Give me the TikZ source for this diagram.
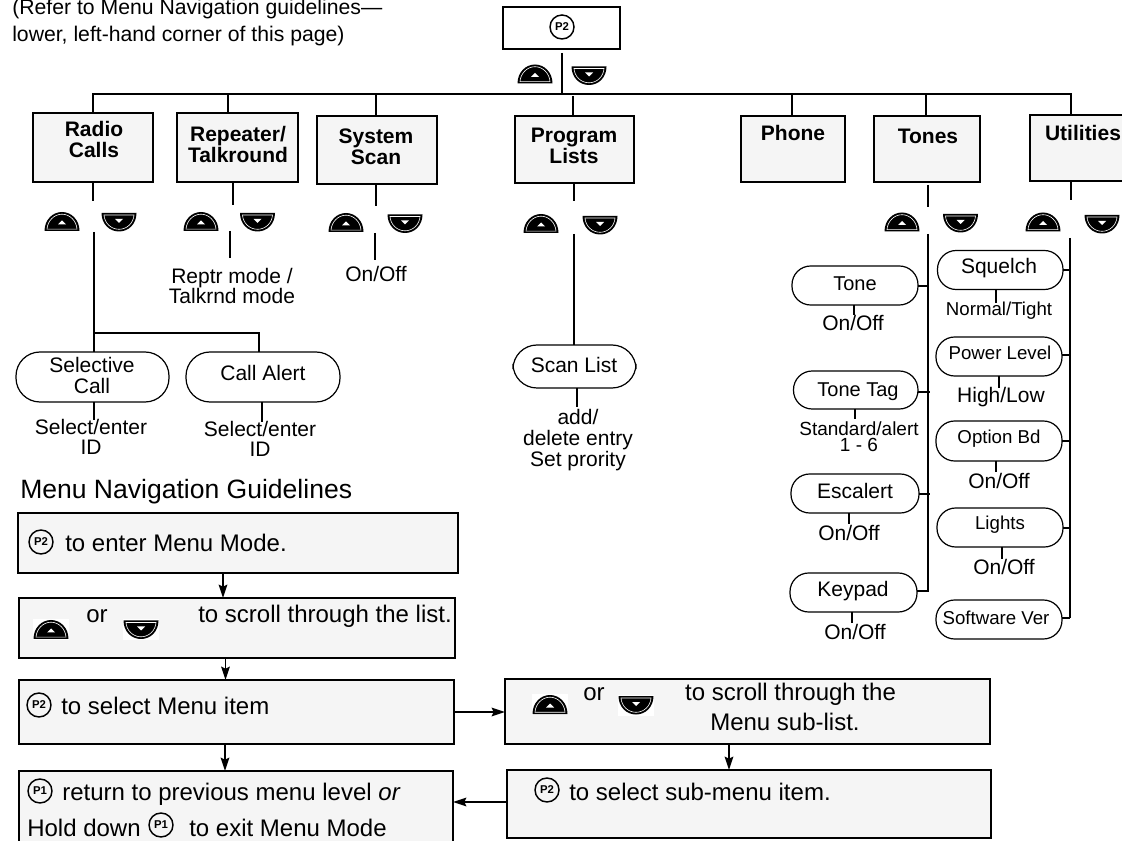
\documentclass[tikz,border=0pt]{standalone}
\usepackage{fontspec}
\setmainfont{Liberation Sans}
\usetikzlibrary{arrows.meta}
\definecolor{boxfill}{HTML}{F5F5F5}
\newcommand{\px}[2]{\fontsize{#1}{#2}\selectfont}
\tikzset{
  x=0.75pt,y=-0.75pt,
  conn/.style={line width=1.5pt,line cap=butt},
  arr/.style={line width=1.3pt,-{Stealth[length=10pt,width=6.5pt,inset=1.5pt]}},
  boxy/.style={draw=black,fill=boxfill,line width=1.5pt,inner sep=0pt,outer sep=0pt},
  plain/.style={draw=black,fill=white,line width=1.5pt,inner sep=0pt,outer sep=0pt},
  pill/.style={draw=black,fill=white,line width=0.9pt,inner sep=0pt,outer sep=0pt,rounded corners=14pt},
  bigpill/.style={pill,rounded corners=18pt},
  head/.style={inner sep=0pt,align=center,font=\bfseries\px{15.75}{15.75}},
  lab/.style={inner sep=0pt,align=center,font=\px{15.75}{15.5}},
  smalllab/.style={inner sep=0pt,align=center,font=\px{14}{14}},
  body/.style={inner sep=0pt,anchor=base west,font=\px{18}{21}},
  pbtn/.style={circle,draw=black,fill=none,line width=1.1pt,minimum size=18pt,inner sep=0pt,font=\bfseries\px{8.5}{8.5}},
  upbtn/.pic={
    \fill[white] (-18,-10.5) rectangle (18,10.5);
    \fill[black] (-17.5,9.5) .. controls (-17.5,-1.5) and (-9.5,-9.5) .. (0,-9.5) .. controls (9.5,-9.5) and (17.5,-1.5) .. (17.5,9.5) -- cycle;
    \draw[white,line width=0.45pt] (-15,7.7) .. controls (-14.5,-0.5) and (-8,-7.3) .. (0,-7.3) .. controls (8,-7.3) and (14.5,-0.5) .. (15,7.7) -- cycle;
    \fill[white] (-4,3) -- (4,3) -- (0,-1) -- cycle;
  },
  downbtn/.pic={
    \fill[white] (-18,-10.5) rectangle (18,10.5);
    \fill[black] (-17.5,-9) .. controls (-17.5,2) and (-9.5,9.5) .. (0,9.5) .. controls (9.5,9.5) and (17.5,2) .. (17.5,-9) -- cycle;
    \draw[white,line width=0.45pt] (-15,-7) .. controls (-14.5,1) and (-8,7.3) .. (0,7.3) .. controls (8,7.3) and (14.5,1) .. (15,-7) -- cycle;
    \fill[white] (-4,-3) -- (4,-3) -- (0,1) -- cycle;
  },
}
% name, x1, y1, x2, y2, style
\newcommand{\bx}[6]{%
  \pgfmathsetmacro{\bw}{(#4-#2)*0.75}%
  \pgfmathsetmacro{\bh}{(#5-#3)*0.75}%
  \node[#6,minimum width=\bw pt,minimum height=\bh pt] (#1) at ({(#2+#4)/2},{(#3+#5)/2}) {};%
}
\begin{document}
\begin{tikzpicture}
\useasboundingbox (0,0) rectangle (1122,841);
\clip (0,0) rectangle (1122,841);

% top note
\node[lab,font=\px{15.9}{16},anchor=base west] (note1) at (12,15) {(Refer to Menu Navigation guidelines—};
\node[lab,font=\px{15.9}{16},anchor=base west] (note2) at (12,42) {lower, left-hand corner of this page)};

% root
\bx{root}{503}{7}{620}{49}{plain}
\node[pbtn] (rootp) at (562,27) {P2};
\pic at (535,74) {upbtn};
\pic at (589,75.5) {downbtn};
\coordinate (roottop) at (562,53);
\coordinate (busl) at (93,94);
\coordinate (busm) at (562,94);
\coordinate (busr) at (1071,94);
\draw[conn] (roottop) -- (busm);
\draw[conn,line cap=rect] (busl) -- (busr);

% level 1
\bx{radio}{33}{113}{153}{182}{boxy}
\node[head] (radiot) at (94,139.5) {Radio\\Calls};
\bx{rept}{177}{113}{298}{182}{boxy}
\node[head] (reptt) at (238,144.5) {Repeater/\\Talkround};
\bx{sys}{317}{116}{437}{184}{boxy}
\node[head] (syst) at (376,146.5) {System\\Scan};
\bx{prog}{514.5}{116}{634}{183}{boxy}
\node[head] (progt) at (574,145.5) {Program\\Lists};
\bx{phone}{741}{116}{845}{182}{boxy}
\node[head] (phonet) at (793,133) {Phone};
\bx{tones}{874}{116}{980}{182}{boxy}
\node[head] (tonest) at (928,136) {Tones};
\bx{util}{1030}{115}{1140}{181}{boxy}
\node[head] (utilt) at (1083,133) {Utilities};

% bus drops
\draw[conn] (busl) -- (busl |- radio.north);
\coordinate (d2) at (228,94); \draw[conn] (d2) -- (d2 |- rept.north);
\coordinate (d3) at (376,94); \draw[conn] (d3) -- (d3 |- sys.north);
\coordinate (d4) at (573,96); \draw[conn] (d4) -- (d4 |- prog.north);
\coordinate (d5) at (792,94); \draw[conn] (d5) -- (d5 |- phone.north);
\coordinate (d6) at (926,94); \draw[conn] (d6) -- (d6 |- tones.north);
\draw[conn] (busr) -- (busr |- util.north);

% stubs below level-1 boxes
\coordinate (s1) at (93,201);  \draw[conn] (radio.south -| s1) -- (s1);
\coordinate (s2) at (233,205); \draw[conn] (rept.south -| s2) -- (s2);
\coordinate (s3) at (376,206); \draw[conn] (sys.south -| s3) -- (s3);
\coordinate (s4) at (574,201); \draw[conn] (prog.south -| s4) -- (s4);
\coordinate (s6a) at (928,185); \coordinate (s6) at (928,207); \draw[conn] (s6a) -- (s6);
\coordinate (s7) at (1071,200);\draw[conn] (util.south -| s7) -- (s7);

% buttons
\pic at (62,221.5) {upbtn};   \pic at (119,222) {downbtn};
\pic at (201,221.5) {upbtn};  \pic at (257.5,222) {downbtn};
\pic at (346,222.5) {upbtn};  \pic at (405,223.5) {downbtn};
\pic at (541,223.5) {upbtn};  \pic at (600,225) {downbtn};
\pic at (902,222) {upbtn};    \pic at (960.5,223) {downbtn};
\pic at (1043,222) {upbtn};   \pic at (1102,224) {downbtn};

% Radio Calls branch
\bx{selc}{16}{352}{169}{402}{bigpill}
\node[lab,font=\px{15.75}{15.75}] (selct) at (92,375.5) {Selective\\Call};
\bx{cala}{186}{352}{340}{402}{bigpill}
\node[lab] (calat) at (263,373) {Call Alert};
\coordinate (rcs) at (94,232);
\coordinate (rcj) at (94,333);
\coordinate (rcr) at (259,333);
\draw[conn] (rcs) -- (rcs |- selc.north);
\draw[conn] (rcj) -- (rcr) -- (rcr |- cala.north);
\node[lab] (sele1) at (91,437) {Select/enter\\ID};
\node[lab] (sele2) at (260,439) {Select/enter\\ID};
\coordinate (c1) at (94,420);  \draw[conn] (c1 |- selc.south) -- (c1);
\coordinate (c2) at (262,422); \draw[conn] (c2 |- cala.south) -- (c2);

% Repeater, System
\coordinate (rp1) at (230,231); \coordinate (rp2) at (230,258);
\draw[conn] (rp1) -- (rp2);
\node[lab] (rptt) at (232,286) {Reptr mode /\\Talkrnd mode};
\coordinate (ss1) at (375,233); \coordinate (ss2) at (375,260);
\draw[conn] (ss1) -- (ss2);
\node[lab] (ssl) at (376,274) {On/Off};

% Program Lists
\bx{scan}{513}{345}{636}{388}{bigpill}
\node[lab] (scant) at (574,365) {Scan List};
\coordinate (pl1) at (574,234);
\draw[conn] (pl1) -- (pl1 |- scan.north);
\coordinate (pl2) at (577,407);
\draw[conn] (pl2 |- scan.south) -- (pl2);
\node[lab] (plt) at (578,440) {add/\\delete entry\\Set prority};

% Tones column
\coordinate (tt) at (928,234); \coordinate (tb) at (928,592);
\draw[conn] (tt) -- (tb);
\bx{tone}{792}{266}{918}{305}{pill}
\node[lab,font=\px{15}{15}] (tonet) at (855,284) {Tone};
\bx{tag}{793.5}{371}{918}{409}{pill}
\node[lab,font=\px{15}{15}] (tagt) at (858,392) {Tone Tag};
\bx{esc}{791}{474}{919}{513}{pill}
\node[lab] (esct) at (855,491) {Escalert};
\bx{key}{790}{573}{917}{612}{pill}
\node[lab] (keyt) at (853,591) {Keypad};
\coordinate (j1) at (928,286); \draw[conn] (tone.east |- j1) -- (j1);
\coordinate (j2) at (930,392); \draw[conn] (tag.east |- j2) -- (j2);
\coordinate (j3) at (930,494); \draw[conn] (esc.east |- j3) -- (j3);
\coordinate (j4) at (928,591.5); \draw[conn] (key.east |- j4) -- (j4);
\coordinate (o1) at (854,315); \draw[conn] (o1 |- tone.south) -- (o1);
\coordinate (o2) at (855,419); \draw[conn] (o2 |- tag.south) -- (o2);
\coordinate (o3) at (849,524); \draw[conn] (o3 |- esc.south) -- (o3);
\coordinate (o4) at (852,623); \draw[conn] (o4 |- key.south) -- (o4);
\node[lab] (ol1) at (853,323) {On/Off};
\node[lab,font=\px{14.25}{12}] (ol2) at (859,437) {Standard/alert\\1 - 6};
\node[lab] (ol3) at (849,533) {On/Off};
\node[lab] (ol4) at (855,632) {On/Off};

% Utilities column
\coordinate (ut) at (1070,238); \coordinate (ub) at (1070,618);
\draw[conn] (ut) -- (ub);
\bx{sq}{937.5}{250.5}{1063}{289.5}{pill}
\node[lab] (sqt) at (999,268) {Squelch};
\bx{pow}{936}{337}{1062}{376}{pill}
\node[smalllab] (powt) at (1000,353) {Power Level};
\bx{opt}{936}{421}{1062}{461}{pill}
\node[smalllab] (optt) at (999,439) {Option Bd};
\bx{lig}{937}{508}{1063}{547}{pill}
\node[smalllab] (ligt) at (1000,525) {Lights};
\bx{sw}{936}{600}{1062}{639}{pill}
\node[smalllab] (swt) at (996,618) {Software Ver};
\coordinate (u1) at (1070,270); \draw[conn] (sq.east |- u1) -- (u1);
\coordinate (u2) at (1070,355); \draw[conn] (pow.east |- u2) -- (u2);
\coordinate (u3) at (1070,441.5); \draw[conn] (opt.east |- u3) -- (u3);
\coordinate (u4) at (1070,528); \draw[conn] (lig.east |- u4) -- (u4);
\coordinate (u5) at (1070,618); \draw[conn] (sw.east |- u5) -- (u5);
\coordinate (q1) at (996,303); \draw[conn] (q1 |- sq.south) -- (q1);
\coordinate (q2) at (999,388); \draw[conn] (q2 |- pow.south) -- (q2);
\coordinate (q3) at (996,472); \draw[conn] (q3 |- opt.south) -- (q3);
\coordinate (q4) at (1002,559); \draw[conn] (q4 |- lig.south) -- (q4);
\node[smalllab] (ql1) at (999,311) {Normal/Tight};
\node[lab] (ql2) at (1001,397) {High/Low};
\node[lab] (ql3) at (999,481) {On/Off};
\node[lab] (ql4) at (1004,567) {On/Off};

% Guidelines
\node[inner sep=0pt,anchor=base west,font=\px{19.9}{21}] (guide) at (20,499) {Menu Navigation Guidelines};
\bx{g1}{18}{513}{458}{573}{boxy}
\bx{g2}{19}{598}{455}{658}{boxy}
\bx{g3}{19}{680}{454}{744}{boxy}
\bx{g4}{19}{771}{453}{860}{boxy}
\bx{g5}{505}{679}{990}{743.5}{boxy}
\bx{g6}{507}{770}{991}{838}{boxy}

\node[pbtn] (p1) at (41,542) {P2};
\node[body] (t1) at (65,552) {to enter Menu Mode.};

\pic at (51,629.5) {upbtn};
\node[body] (t2a) at (86,623) {or};
\pic at (141,629.5) {downbtn};
\node[body] (t2b) at (198,623) {to scroll through the list.};

\node[pbtn] (p3) at (39,705) {P2};
\node[body] (t3) at (61,715) {to select Menu item};

\node[pbtn] (p4) at (40,791) {P1};
\node[body] (t4) at (62,800) {return to previous menu level \textit{or}};
\node[body] (t4b) at (27,836) {Hold down};
\node[pbtn] (p5) at (161,825) {P1};
\node[body] (t4c) at (189,836) {to exit Menu Mode};

\pic at (550,704.5) {upbtn};
\node[body] (t5a) at (583,700) {or};
\pic at (636,705) {downbtn};
\node[body,anchor=base] (t5b) at (790.5,700) {to scroll through the};
\node[body,anchor=base] (t5c) at (785,730) {Menu sub-list.};

\node[pbtn] (p6) at (547,790) {P2};
\node[body] (t6) at (569,800) {to select sub-menu item.};

\coordinate (a1) at (223,573); \draw[arr] (a1) -- (a1 |- g2.north);
\coordinate (a2) at (225.5,658); \draw[arr] (a2) -- (a2 |- g3.north);
\coordinate (a3) at (225,744); \draw[arr] (a3) -- (a3 |- g4.north);
\coordinate (a4) at (729,743.5); \draw[arr] (a4) -- (a4 |- g6.north);
\coordinate (a5) at (454,712); \draw[arr] (a5) -- (a5 -| g5.west);
\coordinate (a6) at (507,802); \draw[arr] (a6) -- (a6 -| g4.east);
\end{tikzpicture}
\end{document}
